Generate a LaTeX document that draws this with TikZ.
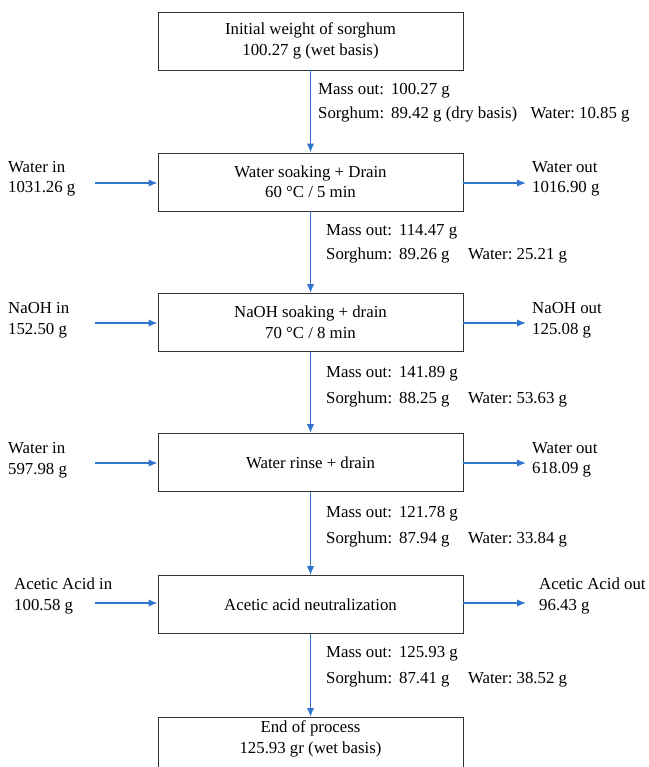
\documentclass[tikz,border=0pt]{standalone}
\usepackage{fontspec}
\setmainfont{Liberation Serif}
\usepackage{tikz}
\usetikzlibrary{arrows.meta}

\definecolor{flowblue}{RGB}{47,117,206}

\tikzset{
	stepbox/.style={draw=black!80, line width=0.9pt, minimum width=305pt, minimum height=58pt, align=center, inner sep=0pt},
	flow/.style={flowblue, line width=1.5pt, -{Latex[length=9pt, width=7.5pt]}},
	side/.style={align=left, anchor=west, inner sep=0pt},
	mass/.style={anchor=west, inner sep=0pt}
}

\begin{document}
\begin{tikzpicture}[x=1pt, y=-1pt, font=\fontsize{16.8}{20.5}\selectfont]
	\useasboundingbox (0,0) rectangle (648,767);
	\clip (0,0) rectangle (648,767);

	%process boxes
	\node[stepbox] (init) at (310.5, 41) {Initial weight of sorghum\\100.27 g (wet basis)};
	\node[stepbox] (soak) at (310.5, 182) {Water soaking + Drain\\60 \textdegree C / 5 min};
	\node[stepbox] (naoh) at (310.5, 322.5) {NaOH soaking + drain\\70 \textdegree C / 8 min};
	\node[stepbox] (rinse) at (310.5, 462.5) {Water rinse + drain};
	\node[stepbox] (acid) at (310.5, 604.5) {Acetic acid neutralization};
	\node[stepbox, minimum height=80pt, anchor=north] (final) at (310.5, 717) {End of process\\125.93 gr (wet basis)\\[20pt]};

	%main flow
	\draw[flow] (init.south) -- (soak.north);
	\draw[flow] (soak.south) -- (naoh.north);
	\draw[flow] (naoh.south) -- (rinse.north);
	\draw[flow] (rinse.south) -- (acid.north);
	\draw[flow] (acid.south) -- (final.north);

	%mass balances
	\node[mass] (m1) at (318, 91) {Mass out:\ \,100.27 g};
	\node[mass] (s1) at (318, 114) {Sorghum:\ \,89.42 g (dry basis)\hspace{0.8em}Water:\ 10.85 g};
	\node[mass] (m2) at (326, 232) {Mass out:\ \,114.47 g};
	\node[mass] (s2) at (326, 255) {Sorghum:\ \,89.26 g\hspace{1.1em}Water:\ 25.21 g};
	\node[mass] (m3) at (326, 374) {Mass out:\ \,141.89 g};
	\node[mass] (s3) at (326, 399) {Sorghum:\ \,88.25 g\hspace{1.1em}Water:\ 53.63 g};
	\node[mass] (m4) at (326, 514) {Mass out:\ \,121.78 g};
	\node[mass] (s4) at (326, 539) {Sorghum:\ \,87.94 g\hspace{1.1em}Water:\ 33.84 g};
	\node[mass] (m5) at (326, 654) {Mass out:\ \,125.93 g};
	\node[mass] (s5) at (326, 679) {Sorghum:\ \,87.41 g\hspace{1.1em}Water:\ 38.52 g};

	%inputs and outputs
	\node[side] (win1) at (8, 179) {Water in\\1031.26 g};
	\node[side] (wout1) at (532, 179) {Water out\\1016.90 g};
	\node[side] (nin) at (8, 320) {NaOH in\\152.50 g};
	\node[side] (nout) at (532, 320) {NaOH out\\125.08 g};
	\node[side] (win2) at (8, 460) {Water in\\597.98 g};
	\node[side] (wout2) at (532, 460) {Water out\\618.09 g};
	\node[side] (ain) at (14, 596) {Acetic Acid in\\100.58 g};
	\node[side] (aout) at (539, 596) {Acetic Acid out\\96.43 g};

	\coordinate (in1) at (95, 183);
	\coordinate (out1) at (526, 183);
	\coordinate (in2) at (95, 323);
	\coordinate (out2) at (526, 323);
	\coordinate (in3) at (95, 463);
	\coordinate (out3) at (526, 463);
	\coordinate (in4) at (95, 603);
	\coordinate (out4) at (526, 603);

	\draw[flow] (in1) -- (in1 -| soak.west);
	\draw[flow] (out1 -| soak.east) -- (out1);
	\draw[flow] (in2) -- (in2 -| naoh.west);
	\draw[flow] (out2 -| naoh.east) -- (out2);
	\draw[flow] (in3) -- (in3 -| rinse.west);
	\draw[flow] (out3 -| rinse.east) -- (out3);
	\draw[flow] (in4) -- (in4 -| acid.west);
	\draw[flow] (out4 -| acid.east) -- (out4);
\end{tikzpicture}
\end{document}
